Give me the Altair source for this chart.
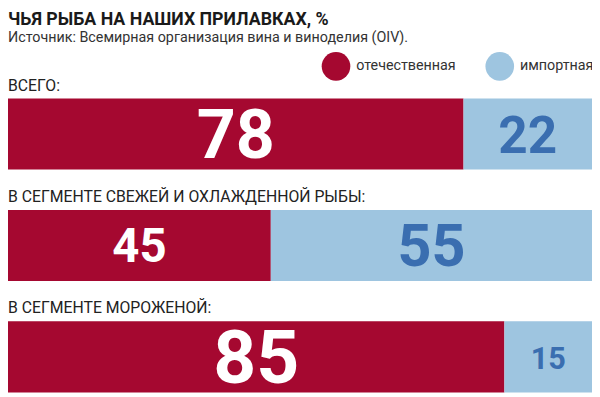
import altair as alt
import pandas as pd

categories = [
    "ВСЕГО:",
    "В СЕГМЕНТЕ СВЕЖЕЙ И ОХЛАЖДЕННОЙ РЫБЫ:",
    "В СЕГМЕНТЕ МОРОЖЕНОЙ:",
]
domestic = [78, 45, 85]
imported = [22, 55, 15]
series = ["отечественная", "импортная"]

RED = "#a50830"
LBLUE = "#9ec5e0"
DBLUE = "#3a6eb0"

rows = []
for c, d, i in zip(categories, domestic, imported):
    rows.append({"cat": c, "series": series[0], "value": d, "k": 0})
    rows.append({"cat": c, "series": series[1], "value": i, "k": 1})
df = pd.DataFrame(rows)

base = (
    alt.Chart(df)
    .transform_stack(
        stack="value", groupby=["cat"], as_=["x0", "x1"],
        sort=[alt.SortField("k", order="ascending")],
    )
    .transform_calculate(mid="(datum.x0 + datum.x1) / 2")
)

yscale = alt.Scale(range=[53, 351], paddingInner=41 / 113, paddingOuter=0)
xscale = alt.Scale(domain=[0, 100], nice=False, zero=False)

bars = base.mark_bar().encode(
    x=alt.X("x0:Q", scale=xscale, axis=None),
    x2="x1:Q",
    y=alt.Y("cat:N", sort=categories, axis=None, scale=yscale),
    color=alt.Color(
        "series:N",
        scale=alt.Scale(domain=series, range=[RED, LBLUE]),
        legend=alt.Legend(
            title=None, orient="none", legendX=318, legendY=6,
            direction="horizontal", symbolType="circle", symbolSize=841,
            symbolStrokeWidth=0, symbolOpacity=1,
            labelFont="Roboto", labelFontSize=14.5, labelColor="#333333",
            labelOffset=6, columnPadding=30, padding=0,
        ),
    ),
)

labels = base.transform_filter(alt.datum.k == 0).mark_text(
    align="left", baseline="alphabetic", dy=-8, dx=0,
    font="Roboto", fontSize=16, color="#222222",
).encode(
    x=alt.datum(0),
    y=alt.Y("cat:N", sort=categories, axis=None, scale=yscale, bandPosition=0),
    text="cat:N",
)

nums = base.mark_text(
    font="Roboto", fontWeight="bold", align="center", baseline="middle", dy=3,
).encode(
    x=alt.X("mid:Q"),
    y=alt.Y("cat:N", sort=categories, axis=None, scale=yscale),
    text="value:Q",
    size=alt.Size(
        "value:Q",
        scale=alt.Scale(domain=[15, 22, 45, 55, 78, 85], range=[31, 52, 48, 60, 69, 76]),
        legend=None,
    ),
    color=alt.condition("datum.k == 0", alt.value("white"), alt.value(DBLUE)),
)

chart = (
    alt.layer(bars, labels, nums)
    .properties(
        width=592,
        height=353,
        autosize=alt.AutoSizeParams(type="none"),
        padding={"top": 36, "left": 0, "right": 0, "bottom": 0},
        title=alt.TitleParams(
            text="ЧЬЯ РЫБА НА НАШИХ ПРИЛАВКАХ, %",
            subtitle="Источник: Всемирная организация вина и виноделия (OIV).",
            anchor="start", frame="group", offset=2,
            font="Roboto", fontSize=18, fontWeight="bold", color="#1a1a1a",
            subtitleFont="Roboto", subtitleFontSize=14.5, subtitleColor="#333333",
            subtitlePadding=2,
        ),
        background="white",
    )
    .configure_view(stroke=None)
)

chart.save("out.html", embed_options={"renderer": "svg", "actions": False})
